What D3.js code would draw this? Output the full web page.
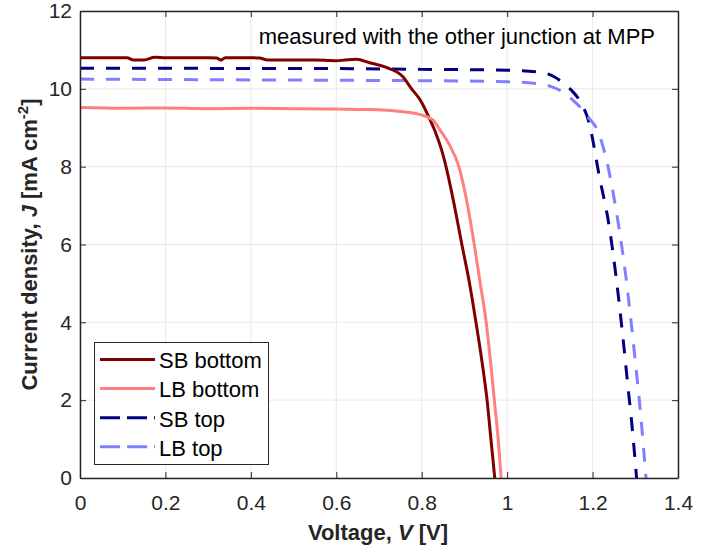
<!DOCTYPE html>
<html>
<head>
<meta charset="utf-8">
<script src="https://cdn.jsdelivr.net/npm/d3@7"></script>
<style>
  body { margin: 0; background: #fff; }
  svg text { font-family: "Liberation Sans", Arial, Helvetica, sans-serif; }
</style>
</head>
<body>
<svg id="chart" width="722" height="548"></svg>
<script>
// series data (V in volts, J in mA cm^-2)
const sbBottomV = [0, 0.05, 0.11, 0.125, 0.15, 0.175, 0.2, 0.25, 0.3, 0.32, 0.33, 0.34, 0.4, 0.42, 0.44, 0.5, 0.55, 0.58, 0.6, 0.62, 0.647, 0.678, 0.717, 0.756, 0.775, 0.799, 0.818, 0.833, 0.846, 0.858, 0.877, 0.894, 0.912, 0.927, 0.941, 0.953, 0.962, 0.971];
const sbBottomJ = [10.80, 10.80, 10.80, 10.74, 10.74, 10.81, 10.80, 10.80, 10.80, 10.79, 10.74, 10.80, 10.80, 10.79, 10.74, 10.74, 10.74, 10.73, 10.72, 10.74, 10.76, 10.67, 10.55, 10.31, 10.02, 9.67, 9.24, 8.86, 8.45, 7.95, 6.97, 6.0, 5.0, 4.0, 3.0, 2.0, 1.0, 0];

const lbBottomV = [0, 0.1, 0.2, 0.3, 0.4, 0.5, 0.6, 0.678, 0.756, 0.799, 0.826, 0.843, 0.864, 0.887, 0.908, 0.923, 0.937, 0.951, 0.961, 0.970, 0.979, 0.986];
const lbBottomJ = [9.52, 9.50, 9.51, 9.49, 9.50, 9.49, 9.48, 9.47, 9.41, 9.33, 9.20, 8.94, 8.58, 8.0, 6.97, 6.0, 5.0, 4.0, 3.0, 2.0, 1.0, 0];

const sbTopV = [0, 0.2, 0.4, 0.6, 0.8, 1.0, 1.067, 1.09, 1.11, 1.13, 1.15, 1.169, 1.192, 1.216, 1.239, 1.255, 1.27, 1.282, 1.294, 1.303];
const sbTopJ = [10.53, 10.53, 10.52, 10.52, 10.50, 10.48, 10.44, 10.40, 10.31, 10.16, 9.97, 9.71, 9.12, 7.74, 6.46, 5.17, 3.72, 2.44, 1.15, 0];

const lbTopV = [0, 0.2, 0.4, 0.6, 0.8, 1.0, 1.067, 1.1, 1.122, 1.15, 1.169, 1.19, 1.212, 1.231, 1.255, 1.278, 1.298, 1.313, 1.325];
const lbTopJ = [10.25, 10.24, 10.23, 10.22, 10.21, 10.18, 10.14, 10.07, 9.97, 9.75, 9.55, 9.27, 8.92, 8.25, 6.89, 5.17, 3.21, 1.58, 0];

const seriesNames = ["SB bottom", "LB bottom", "SB top", "LB top"];
const xTicks = [0, 0.2, 0.4, 0.6, 0.8, 1, 1.2, 1.4];
const yTicks = [0, 2, 4, 6, 8, 10, 12];

const svg = d3.select("#chart");
const mLeft = 80, mRight = 678, mTop = 11, mBottom = 478;
const axisColor = "#262626";

const x = d3.scaleLinear().domain([0, 1.4]).range([mLeft, mRight]);
const y = d3.scaleLinear().domain([0, 12]).range([mBottom, mTop]);

// grid
const grid = svg.append("g");
grid.selectAll(".gx").data(xTicks).enter().append("line")
  .attr("x1", d => x(d)).attr("x2", d => x(d))
  .attr("y1", mTop).attr("y2", mBottom)
  .attr("stroke", "#e8e8e8").attr("stroke-width", 1);
grid.selectAll(".gy").data(yTicks).enter().append("line")
  .attr("x1", mLeft).attr("x2", mRight)
  .attr("y1", d => y(d)).attr("y2", d => y(d))
  .attr("stroke", "#e8e8e8").attr("stroke-width", 1);

// curves
const styles = [
  { v: sbBottomV, j: sbBottomJ, color: "#800000", dash: null },
  { v: lbBottomV, j: lbBottomJ, color: "#ff8080", dash: null },
  { v: sbTopV, j: sbTopJ, color: "#000080", dash: "14,12" },
  { v: lbTopV, j: lbTopJ, color: "#8080ff", dash: "14,12" }
];

const line = d3.line()
  .x(d => x(d[0]))
  .y(d => y(d[1]))
  .curve(d3.curveMonotoneX);

const plot = svg.append("g");
[2, 3, 0, 1].forEach(function (i) {
  const s = styles[i];
  plot.append("path")
    .datum(s.v.map((v, k) => [v, s.j[k]]))
    .attr("fill", "none")
    .attr("stroke", s.color)
    .attr("stroke-width", 3)
    .attr("stroke-dasharray", s.dash)
    .attr("d", line);
});

// axes (box with inward ticks)
const xAxis = d3.axisBottom(x).tickValues(xTicks).tickSizeInner(-6).tickSizeOuter(0).tickPadding(17)
  .tickFormat(d3.format("~g"));
const yAxis = d3.axisLeft(y).tickValues(yTicks).tickSizeInner(-6).tickSizeOuter(0).tickPadding(8);

const gx = svg.append("g").attr("transform", `translate(0,${mBottom})`).call(xAxis);
const gy = svg.append("g").attr("transform", `translate(${mLeft},0)`).call(yAxis);
const gxTop = svg.append("g").attr("transform", `translate(0,${mTop})`)
  .call(d3.axisTop(x).tickValues(xTicks).tickSizeInner(-6).tickSizeOuter(0).tickFormat(""));
const gyRight = svg.append("g").attr("transform", `translate(${mRight},0)`)
  .call(d3.axisRight(y).tickValues(yTicks).tickSizeInner(-6).tickSizeOuter(0).tickFormat(""));

[gx, gy, gxTop, gyRight].forEach(function (g) {
  g.select(".domain").attr("stroke", axisColor).attr("stroke-width", 1.5);
  g.selectAll(".tick line").attr("stroke", axisColor);
  g.selectAll(".tick text").attr("fill", axisColor).attr("font-size", 21)
    .attr("font-family", "Liberation Sans, Arial, sans-serif");
});
gx.selectAll(".tick text").attr("dy", "0.71em");

// axis labels
const xl = svg.append("text")
  .attr("x", 378).attr("y", 540)
  .attr("text-anchor", "middle")
  .attr("font-size", 22).attr("font-weight", "bold").attr("fill", axisColor);
xl.append("tspan").text("Voltage, ");
xl.append("tspan").attr("font-style", "italic").text("V");
xl.append("tspan").text(" [V]");

const yl = svg.append("text")
  .attr("transform", `translate(37,${(mTop + mBottom) / 2}) rotate(-90)`)
  .attr("text-anchor", "middle")
  .attr("font-size", 22).attr("font-weight", "bold").attr("fill", axisColor);
yl.append("tspan").text("Current density, ");
yl.append("tspan").attr("font-style", "italic").text("J");
yl.append("tspan").text(" [mA cm");
yl.append("tspan").attr("font-size", 15).attr("dy", -9).text("-2");
yl.append("tspan").attr("dy", 9).text("]");

// annotation
svg.append("text")
  .attr("x", 655).attr("y", 44)
  .attr("text-anchor", "end")
  .attr("font-size", 22).attr("fill", "#000")
  .text("measured with the other junction at MPP");

// legend
const legend = svg.append("g");
legend.append("rect")
  .attr("x", 94.5).attr("y", 342.5).attr("width", 174).attr("height", 122)
  .attr("fill", "#fff").attr("stroke", axisColor).attr("stroke-width", 1);
const legendDash = [null, null, "20,7", "20,7"];
seriesNames.forEach(function (name, i) {
  const cy = 359.5 + i * 29.1;
  legend.append("line")
    .attr("x1", 100).attr("x2", 155).attr("y1", cy).attr("y2", cy)
    .attr("stroke", styles[i].color).attr("stroke-width", 3)
    .attr("stroke-dasharray", legendDash[i]);
  legend.append("text")
    .attr("x", 159).attr("y", cy).attr("dy", "0.4em")
    .attr("font-size", 22).attr("fill", "#000")
    .text(name);
});
</script>
</body>
</html>
